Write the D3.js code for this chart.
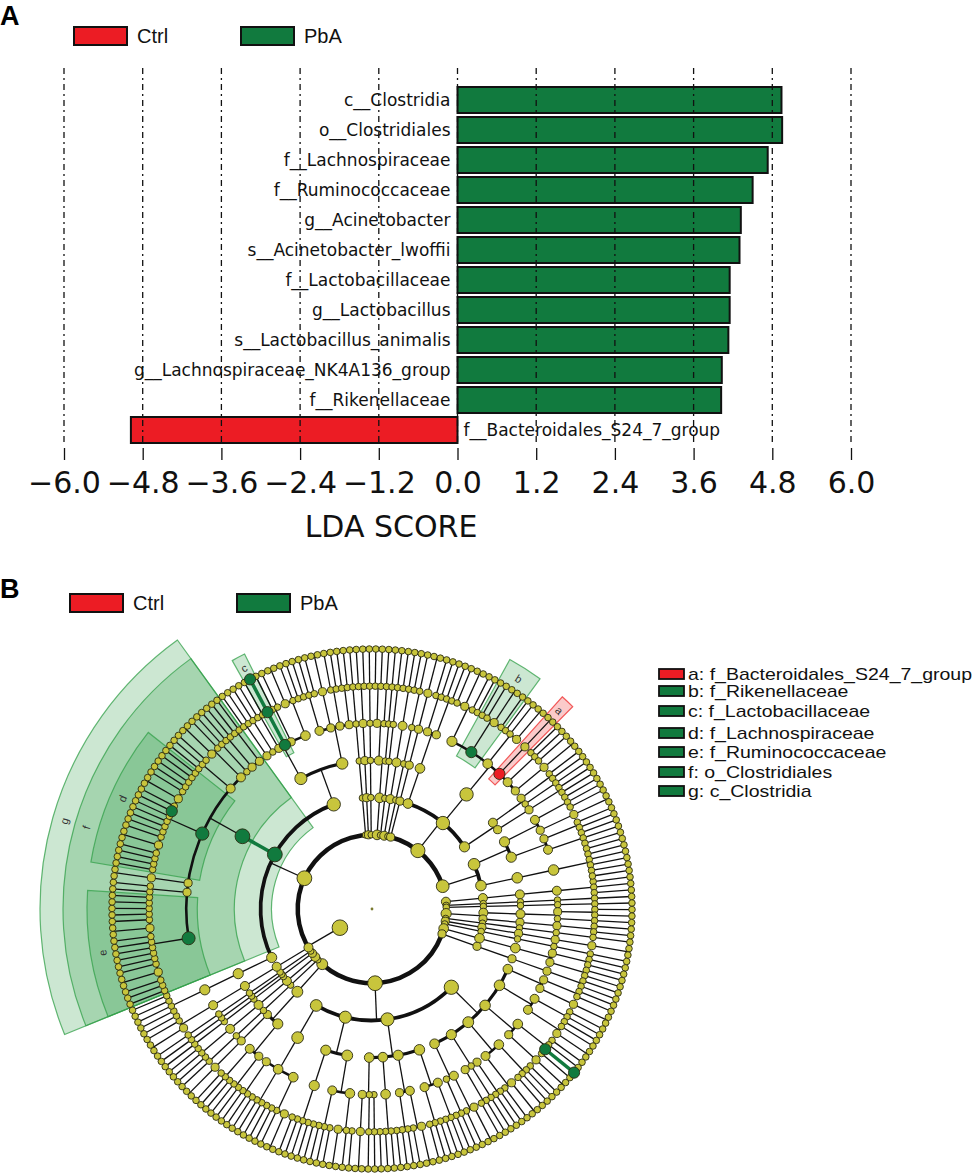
<!DOCTYPE html>
<html>
<head>
<meta charset="utf-8">
<script src="https://cdn.jsdelivr.net/npm/d3@7"></script>
<style>
  body { margin: 0; background: #fff; }
  svg { display: block; }
</style>
</head>
<body>
<svg id="fig" width="976" height="1174"></svg>
<script>
// ---------- panel A : LDA scores ----------
const groups = ["Ctrl", "PbA"];
const taxa = [
  "c__Clostridia", "o__Clostridiales", "f__Lachnospiraceae", "f__Ruminococcaceae",
  "g__Acinetobacter", "s__Acinetobacter_lwoffii", "f__Lactobacillaceae", "g__Lactobacillus",
  "s__Lactobacillus_animalis", "g__Lachnospiraceae_NK4A136_group", "f__Rikenellaceae",
  "f__Bacteroidales_S24_7_group"
];
const ldaScores = [4.94, 4.95, 4.73, 4.50, 4.32, 4.30, 4.15, 4.15, 4.13, 4.03, 4.02, -4.98];
const ldaGroup = ["PbA", "PbA", "PbA", "PbA", "PbA", "PbA", "PbA", "PbA", "PbA", "PbA", "PbA", "Ctrl"];
const ldaTicks = [-6, -4.8, -3.6, -2.4, -1.2, 0, 1.2, 2.4, 3.6, 4.8, 6];

// ---------- panel B : cladogram ----------
const cladeKeys = ["a", "b", "c", "d", "e", "f", "g"];
const cladeLabels = ["f_Bacteroidales_S24_7_group", "f_Rikenellaceae", "f_Lactobacillaceae",
  "f_Lachnospiraceae", "f_Ruminococcaceae", "o_Clostridiales", "c_Clostridia"];
const cladeTaxa = ["Bacteroidales_S24_7_group", "Rikenellaceae", "Lactobacillaceae",
  "Lachnospiraceae", "Ruminococcaceae", "Clostridiales", "Clostridia"];
const cladeGroup = ["Ctrl", "PbA", "PbA", "PbA", "PbA", "PbA", "PbA"];
// genus / species biomarkers (coloured nodes, no shading)
const markerTaxa = ["Acinetobacter", "Acinetobacter_lwoffii", "Lactobacillus",
  "Lactobacillus_animalis", "Lachnospiraceae_NK4A136_group"];
const markerGroup = ["PbA", "PbA", "PbA", "PbA", "PbA"];

// taxonomy, read clockwise round the circle.
// phylum = [classes], class = [orders], order = [families], family = [genera],
// a number is a genus with that many species; {n:name, c:[...]} or {n, s:count} names a taxon
const smallPhylaEast = [
  [[[[1, 1, 1]]]], [[[[1]]]], [[[[1]]]], [[[[1, 1], [1]]], [[[1, 1]]]],
  [[[[1]]]], [[[[2]]]], [[[[1]]]], [[[[1, 1], [1, 1]]]], [[[[1, 1]]]]
];
const proteobacteria = [
  [ // gamma
    [[1, 1], [2]],
    [[1, 1, 1], [1, 2]],
    [[1, 1, {n: "Acinetobacter", c: [{n: "Acinetobacter_lwoffii"}]}, 1], [2]],
    [[1, 1, 1, 1], [2, 1]],
    [[1, 1], [1], [1, 1]],
    [[2, 1], [1]]
  ],
  [[[1, 1, 1], [1, 1, 1]], [[2, 1], [1, 1]], [[1, 1, 1, 1]], [[1], [1], [2]]],
  [[[1, 1, 2], [1, 1, 1]], [[1, 1, 1, 1, 1]]],
  [[[2, 1, 1], [1, 1, 1, 1], [1, 1]]]
];
const smallPhylaSouth = [
  [[[[1, 1], [1, 1, 1]], [[2]]]], [[[[1]]]], [[[[1, 1, 1]]]],
  [[[[1]]], [[[1]]]], [[[[1]]]], [[[[2, 1]]]]
];
const firmicutes = [
  [[[1, 1, 1, 1, 1]]],
  {n: "Clostridia", c: [
    {n: "Clostridiales", c: [
      {n: "Ruminococcaceae", c: [1, 1, 1, 2, 1, 1, 1, 1, 1, 1, 2, 1, 1, 1, 1, 1]},
      [1, 1], [2],
      {n: "Lachnospiraceae", c: [1, 1, 1, 1, 2, 1, 1, 1, 1, 1,
        {n: "Lachnospiraceae_NK4A136_group", s: 1}, 1, 2, 1, 1, 1, 1, 1]},
      [1, 1, 1], [2, 1], [1], [1, 1], [1, 1]
    ]}
  ]},
  [
    [[1, 1], [1], [1, 1],
      {n: "Lactobacillaceae", c: [{n: "Lactobacillus", c: [{n: "Lactobacillus_animalis"}]}]},
      [1, 1], [2, 1, 1]],
    [[1, 1, 1], [2], [1, 1], [1, 1]]
  ]
];
const smallPhylaNorth = [
  [[[[1]]]], [[[[1, 1]]]], [[[[1]]]], [[[[1, 1], [1]], [[1]]]],
  [[[[1]]]], [[[[1, 1, 1]]]], [[[[1]]]], [[[[2]]]]
];
const bacteroidetes = [
  [[[1, 1], [1, 1]]],
  [[[1, 2, 1, 1], {n: "Rikenellaceae", c: [1, 1, 2, 1]}, [1, 1, 2],
    {n: "Bacteroidales_S24_7_group", c: [2]}, [1, 1, 1], [2]]],
  [[[1, 1], [1]], [[1, 1]]]
];
const actinobacteria = [
  [[[1, 1, 1], [2]], [[1, 1], [1, 1, 1]]],
  [[[1, 1, 1, 1, 1, 1]]]
];
const phyla = [...smallPhylaEast, proteobacteria, ...smallPhylaSouth, firmicutes,
  ...smallPhylaNorth, bacteroidetes, actinobacteria];

// ---------- drawing ----------
const RED = "#ec1c24", GREEN = "#117a3e", OLIVE = "#c8c53c";
const colorOf = g => g === "Ctrl" ? RED : GREEN;
const svg = d3.select("#fig");
svg.append("rect").attr("width", 976).attr("height", 1174).attr("fill", "#fff");

const sans = "'Liberation Sans', Arial, sans-serif";
const deja = "'DejaVu Sans', sans-serif";

function groupLegend(y, xs) {
  groups.forEach((g, i) => {
    svg.append("rect").attr("x", xs[i]).attr("y", y).attr("width", 53).attr("height", 18)
      .attr("fill", colorOf(g)).attr("stroke", "#111").attr("stroke-width", 2);
    svg.append("text").attr("x", xs[i] + 63).attr("y", y + 16).text(g)
      .attr("font-family", sans).attr("font-size", 20).attr("fill", "#111");
  });
}

// panel A
svg.append("text").attr("x", 0).attr("y", 25).text("A")
  .attr("font-family", sans).attr("font-weight", "bold").attr("font-size", 27);
groupLegend(27, [74, 241]);

const x = d3.scaleLinear().domain([-6, 6]).range([64, 851]);
const y = d3.scaleBand().domain(taxa).range([85, 445]).paddingInner(4 / 30).paddingOuter(2 / 30);
const panelA = svg.append("g");

panelA.selectAll("rect.bar").data(taxa).join("rect")
  .attr("class", "bar")
  .attr("x", (d, i) => x(Math.min(0, ldaScores[i])))
  .attr("width", (d, i) => Math.abs(x(ldaScores[i]) - x(0)))
  .attr("y", d => y(d))
  .attr("height", y.bandwidth())
  .attr("fill", (d, i) => colorOf(ldaGroup[i]))
  .attr("stroke", "#111").attr("stroke-width", 2);

panelA.selectAll("text.lab").data(taxa).join("text")
  .attr("class", "lab")
  .attr("x", (d, i) => ldaScores[i] >= 0 ? x(0) - 7 : x(0) + 6)
  .attr("y", d => y(d) + y.bandwidth() / 2 + 6)
  .attr("text-anchor", (d, i) => ldaScores[i] >= 0 ? "end" : "start")
  .attr("font-family", deja).attr("font-size", 17).attr("fill", "#111")
  .text(d => d);

// dotted grid drawn over the bars
panelA.selectAll("line.grid").data(ldaTicks).join("line")
  .attr("class", "grid")
  .attr("x1", d => x(d)).attr("x2", d => x(d))
  .attr("y1", 68).attr("y2", 446)
  .attr("stroke", "#111").attr("stroke-width", 1.3)
  .attr("stroke-dasharray", "6,4,2,4");

const axis = panelA.append("g").attr("transform", "translate(0,448)")
  .call(d3.axisBottom(x).tickValues(ldaTicks).tickSize(12).tickPadding(12)
    .tickFormat(d3.format(".1f")));
axis.select(".domain").remove();
axis.selectAll(".tick line").attr("stroke", "#111").attr("stroke-width", 1.3);
axis.selectAll(".tick text").attr("font-family", deja).attr("font-size", 30).attr("fill", "#111");

svg.append("text").attr("x", 391).attr("y", 537).attr("text-anchor", "middle")
  .attr("font-family", deja).attr("font-size", 30).attr("fill", "#111").text("LDA SCORE");

// panel B
svg.append("text").attr("x", 0).attr("y", 598).text("B")
  .attr("font-family", sans).attr("font-weight", "bold").attr("font-size", 27);
groupLegend(594, [70, 237]);

function grow(item) {
  if (typeof item === "number") {
    return {children: item > 0 ? d3.range(item).map(() => ({})) : undefined};
  }
  if (Array.isArray(item)) return {children: item.map(grow)};
  const kids = item.s ? d3.range(item.s).map(() => ({})) : item.c ? item.c.map(grow) : undefined;
  return {name: item.n, children: kids};
}

const root = d3.hierarchy({children: [{name: "Bacteria", children: phyla.map(grow)}]});
d3.cluster().size([360, 1]).separation(() => 1)(root);

const cx = 372, cy = 909, theta0 = 352.2;
const ring = d3.scaleLinear().domain([0, 7]).range([0, 260]);
const nLeaves = root.leaves().length;
const slot = 360 / nLeaves;
root.each(n => { n.ang = theta0 + n.x; n.rad = ring(n.depth); });

const markers = new Map();
cladeTaxa.forEach((t, i) => markers.set(t, {group: cladeGroup[i], key: cladeKeys[i]}));
markerTaxa.forEach((t, i) => markers.set(t, {group: markerGroup[i]}));
const markOf = n => n.data.name ? markers.get(n.data.name) : undefined;

const rad = a => a * Math.PI / 180;
const px = (a, r) => cx + r * Math.cos(rad(a));
const py = (a, r) => cy + r * Math.sin(rad(a));

const clade = svg.append("g");

// shaded clades
const outerByDepth = {3: 332, 4: 309, 5: 285};
const shaded = root.descendants().filter(n => markOf(n) && markOf(n).key)
  .sort((a, b) => a.depth - b.depth);
const wedge = d3.arc();
shaded.forEach(n => {
  const m = markOf(n);
  const lv = n.leaves();
  let a0 = lv[0].ang - slot / 2, a1 = lv[lv.length - 1].ang + slot / 2;
  const mid = (a0 + a1) / 2;
  if (a1 - a0 < 2.8) { a0 = mid - 1.4; a1 = mid + 1.4; }
  const outer = outerByDepth[n.depth];
  const col = m.group === "Ctrl" ? "#ee2a2a" : "#33a04a";
  clade.append("path")
    .attr("transform", `translate(${cx},${cy})`)
    .attr("d", wedge({innerRadius: n.rad - 11, outerRadius: outer,
      startAngle: rad(a0 + 90), endAngle: rad(a1 + 90)}))
    .attr("fill", col).attr("fill-opacity", 0.25)
    .attr("stroke", col).attr("stroke-opacity", 0.75).attr("stroke-width", 1.2);
  clade.append("text")
    .attr("transform", `translate(${px(mid, outer - 12)},${py(mid, outer - 12)}) rotate(${mid + 90})`)
    .attr("text-anchor", "middle").attr("dominant-baseline", "central")
    .attr("font-family", sans).attr("font-size", 11).attr("fill", "#333")
    .text(m.key);
});

// branches: radial stem out to the children ring, then an arc along it
const arcWidth = {2: 4.5, 3: 3.8, 4: 3.2, 5: 2.6, 6: 2, 7: 1.5};
root.descendants().filter(n => n.depth > 0 && n.children).forEach(p => {
  const rc = ring(p.depth + 1);
  const kids = p.children;
  const pm = markOf(p), km = kids.length === 1 ? markOf(kids[0]) : undefined;
  const hot = pm && km && pm.group === km.group;
  clade.append("line")
    .attr("x1", px(p.ang, p.rad)).attr("y1", py(p.ang, p.rad))
    .attr("x2", px(p.ang, rc)).attr("y2", py(p.ang, rc))
    .attr("stroke", hot ? colorOf(pm.group) : "#111")
    .attr("stroke-width", hot ? 3.5 : 1.3);
  if (kids.length > 1) {
    const a0 = d3.min(kids, k => k.ang), a1 = d3.max(kids, k => k.ang);
    const path = d3.path();
    path.arc(cx, cy, rc, rad(a0), rad(a1));
    clade.append("path").attr("d", path.toString()).attr("fill", "none")
      .attr("stroke", "#111").attr("stroke-width", arcWidth[p.depth + 1]);
  }
});

// nodes
const nodeSize = d3.scaleLog().domain([1, 40]).range([3.3, 7.4]).clamp(true);
const nodes = root.descendants().filter(n => n.depth > 0);
nodes.sort((a, b) => (markOf(a) ? 1 : 0) - (markOf(b) ? 1 : 0));
clade.selectAll("circle.node").data(nodes).join("circle")
  .attr("class", "node")
  .attr("cx", n => px(n.ang, n.rad)).attr("cy", n => py(n.ang, n.rad))
  .attr("r", n => {
    const s = n.depth === 1 ? 7.8 : nodeSize(n.leaves().length);
    return markOf(n) ? Math.max(s, 5.6) : s;
  })
  .attr("fill", n => markOf(n) ? colorOf(markOf(n).group) : OLIVE)
  .attr("stroke", "#2b2b12").attr("stroke-width", 0.9);
clade.append("circle").attr("cx", cx).attr("cy", cy).attr("r", 1.4).attr("fill", "#7a7a30");

// clade legend
const legB = svg.append("g");
const legY = [674, 691, 711, 733, 752, 772, 791];
cladeKeys.forEach((k, i) => {
  legB.append("rect").attr("x", 659).attr("y", legY[i] - 5).attr("width", 25).attr("height", 10)
    .attr("fill", colorOf(cladeGroup[i])).attr("stroke", "#111").attr("stroke-width", 1.8);
  legB.append("text")
    .attr("transform", `translate(688,${legY[i] + 6}) scale(1.22,1)`)
    .attr("font-family", sans).attr("font-size", 16).attr("fill", "#111")
    .text(`${k}: ${cladeLabels[i]}`);
});
</script>
</body>
</html>
